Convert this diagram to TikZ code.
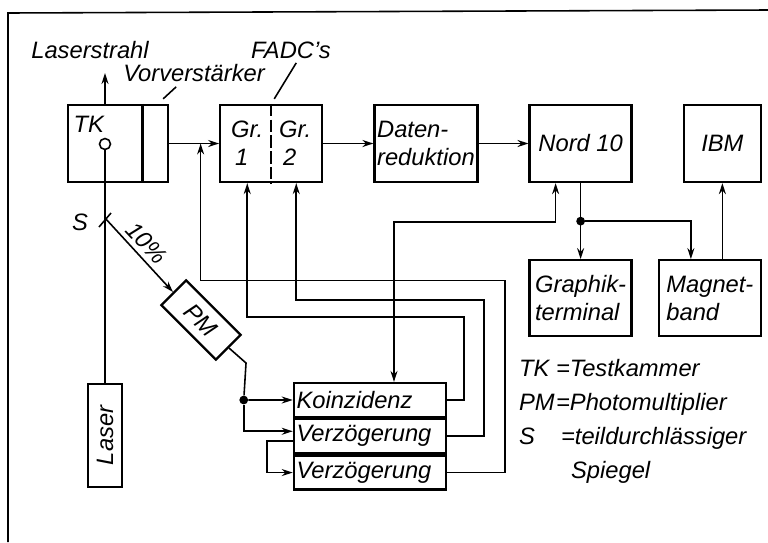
\documentclass[tikz,border=0pt]{standalone}
\usepackage{fontspec}
\setmainfont{Liberation Sans}
\usepackage{tikz}
\usetikzlibrary{arrows.meta,positioning,calc}
\tikzset{
  blk/.style={draw, line width=1.3pt, minimum width=2.04cm, minimum height=1.54cm, inner xsep=1.5pt, align=left},
  stk/.style={draw, line width=1.3pt, minimum width=3.04cm, minimum height=0.68cm, text width=2.94cm, inner xsep=1.5pt, inner ysep=0pt, align=left},
  lbl/.style={inner sep=1pt},
  ln/.style={line width=0.9pt},
  arr/.style={-{Stealth[length=2.2mm,width=1.4mm]}, line width=0.9pt},
  arrb/.style={{Stealth[length=2.2mm,width=1.4mm]}-{Stealth[length=2.2mm,width=1.4mm]}, line width=0.9pt},
  dot/.style={circle, fill, inner sep=0pt, minimum size=5pt},
}

\begin{document}
\begin{tikzpicture}[x=0.02cm, y=-0.02cm, font=\fontsize{13.5}{16}\selectfont\itshape, node distance=1cm]
  \useasboundingbox (0,0) rectangle (768,542);
  \draw[ln] (8,542) -- (8,13) -- (768,10);

  % obere Reihe
  \node[blk, minimum width=2cm] (tk) at (118,143.5) {};
  \node[blk, right=of tk] (gr) {};
  \node[blk, right=of gr] (daten) {Daten-\\reduktion};
  \node[blk, right=of daten, align=center] (nord) {Nord 10};
  \node[blk, right=of nord, minimum width=1.54cm, align=center] (ibm) {IBM};
  \draw[line width=1.3pt] ($(tk.north west)!0.74!(tk.north east)$) -- ($(tk.south west)!0.74!(tk.south east)$);
  \node[lbl] (tklbl) at ($(tk.north west)+(22,20)$) {TK};
  \node[circle, draw, ln, inner sep=0pt, minimum size=0.22cm] (src) at (105,144) {};
  \draw[ln, dash pattern=on 7pt off 2pt] (gr.north) -- (gr.south);
  \node[lbl, align=left] (g1) at ($(gr.center)+(-24,0)$) {Gr.\\\,1};
  \node[lbl, align=left] (g2) at ($(gr.center)+(24,0)$) {Gr.\\\,2};

  \node[lbl] (strahl) at (90,50) {Laserstrahl};
  \node[lbl] (vv) at (194,73) {Vorverstärker};
  \node[lbl] (fadc) at (291,50) {FADC's};
  \coordinate (beam) at (105,73);
  \draw[arr] (src |- tk.north) -- (beam);
  \draw[ln] ($(tk.north east)+(-6,-5)$) -- ++(13,-12);
  \draw[ln] ($(gr.north)+(3,-5)$) -- ++(22,-36);

  \draw[arr] (tk) -- (gr);
  \draw[arr] (gr) -- (daten);
  \draw[arr] (daten) -- (nord);

  % Rechner
  \node[blk, below=1.52cm of nord, minimum height=1.52cm] (graph) {Graphik-\\terminal};
  \node[blk, right=0.5cm of graph, minimum height=1.52cm] (magnet) {Magnet-\\band};
  \draw[arr] (nord.south) -- (graph.north);
  \node[dot] (split) at ($(nord.south)!0.5!(graph.north)$) {};
  \draw[arr] (split) -| ($(magnet.north)+(-19,0)$);
  \draw[arr] (magnet.north -| ibm.south) -- (ibm.south);

  % Laser, Spiegel, PM
  \node[blk, rotate=90, minimum width=2.06cm, minimum height=0.68cm, align=center] (laser) at (105,435.5) {Laser};
  \coordinate (mirror) at (105,218);
  \draw[ln] (laser.east) -- (src.south);
  \draw[ln] ($(mirror)+(-6,9)$) -- ($(mirror)+(6,-5)$);
  \node[lbl] (slbl) at (80,222) {S};
  \node[blk, rotate=-45, minimum width=1.54cm, minimum height=0.7cm, align=center] (pm) at (201,320) {PM};
  \coordinate (pctpos) at (147,243);
  \node[lbl, rotate=-47] (pct) at (pctpos) {10\%};
  \draw[arr] (mirror) -- (pm.west);

  % Koinzidenz und Verzoegerung
  \node[stk] (koinz) at (370,400) {Koinzidenz};
  \node[stk, below=0pt of koinz] (verz1) {Verzögerung};
  \node[stk, below=0pt of verz1] (verz2) {Verzögerung};
  \node[dot] (pmdot) at ($(koinz.west)+(-49,0)$) {};
  \draw[arr] (pm.east) -- ++(17,15) -- (pmdot) -- (koinz.west);
  \draw[arr] (pmdot) |- ([yshift=0.1cm]verz1.west);
  \draw[arr] ([yshift=-0.1cm]verz1.west) -- ++(-26,0) |- (verz2.west);

  \coordinate (inj) at ($(tk.east)!0.63!(gr.west)$);
  \draw[arr] (koinz.east) -- ++(17,0) |- ($(gr.south)+(-24,134)$) -- ($(gr.south)+(-24,0)$);
  \draw[arr] (verz1.east) -- ++(37,0) |- ($(gr.south)+(25,117)$) -- ($(gr.south)+(25,0)$);
  \draw[arr] (verz2.east) -- ++(58,0) |- ($(inj)+(0,137)$) -- (inj);
  \draw[arrb] ($(koinz.north)+(24,0)$) |- ($(nord.south)+(-25,39)$) -- ($(nord.south)+(-25,0)$);

  % Legende
  \node[lbl, anchor=north west, align=left, font=\fontsize{13.5}{19.3}\selectfont\itshape] (legend) at (517,357)
    {\makebox[0.74cm][l]{TK}=Testkammer\\ \makebox[0.74cm][l]{PM}=Photomultiplier\\ \makebox[0.84cm][l]{S}=teildurchlässiger\\ \hspace*{1.04cm}Spiegel};
\end{tikzpicture}
\end{document}
